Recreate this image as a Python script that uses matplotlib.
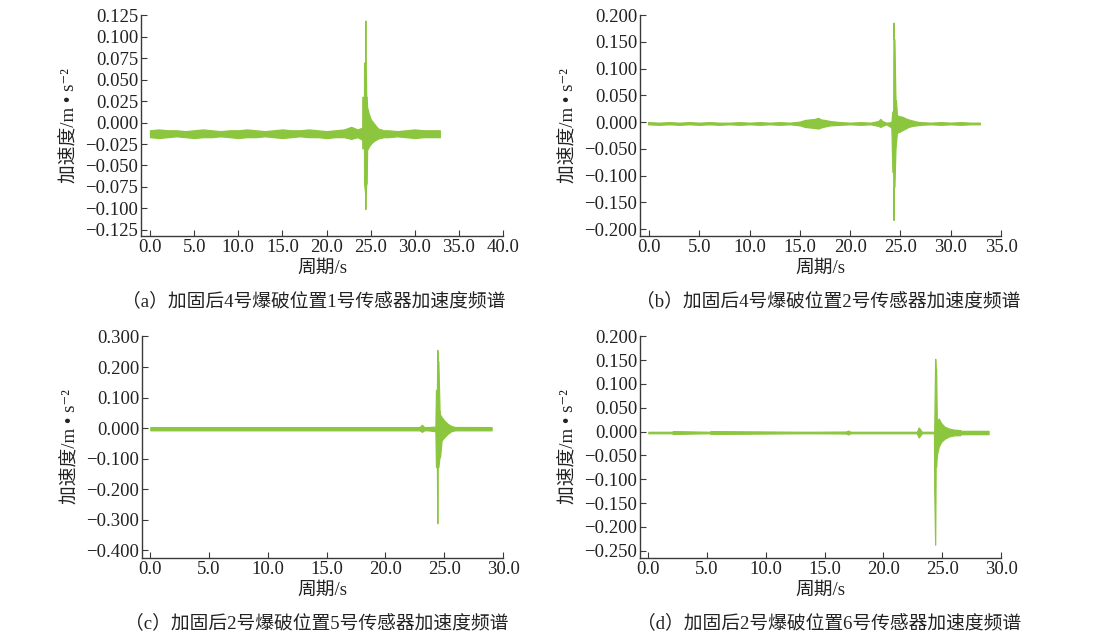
import matplotlib as mpl
mpl.use("Agg")
import matplotlib.pyplot as plt
from matplotlib.ticker import FuncFormatter

plt.rcParams['font.family'] = ['Liberation Serif', 'Noto Sans CJK SC', 'DejaVu Serif']

GREEN = '#8cc63f'
AXCOL = '#3a3a3a'
TXT = '#222222'

# ---- panel (a): envelope of the record, time [s], upper / lower [m/s^2]
t_a = [0.0, 1.0, 2.0, 3.0, 4.0, 5.0, 6.0, 7.0, 8.0, 9.0, 10.0, 11.0,
       12.0, 13.0, 14.0, 15.0, 16.0, 17.0, 18.0, 19.0, 20.0, 21.0, 22.0,
       22.8, 23.5,
       24.05, 24.06, 24.25, 24.26, 24.38, 24.40, 24.42, 24.44, 24.50, 24.55, 24.60,
       24.8, 25.0, 25.3, 25.6, 25.85,
       26.5, 27.0, 28.0, 29.0, 30.0, 31.0, 32.0, 32.84]
hi_a = [-0.009, -0.008, -0.009, -0.009, -0.010, -0.009, -0.008, -0.009, -0.010, -0.009, -0.009, -0.008,
        -0.009, -0.010, -0.009, -0.008, -0.009, -0.009, -0.008, -0.009, -0.010, -0.009, -0.008,
        -0.005, -0.008,
        -0.006, 0.030, 0.030, 0.070, 0.070, 0.119, 0.070, 0.070, 0.030, 0.030, 0.018,
        0.010, 0.004, 0.000, -0.004, -0.007,
        -0.009, -0.009, -0.010, -0.009, -0.008, -0.009, -0.009, -0.009]
lo_a = [-0.017, -0.018, -0.017, -0.016, -0.017, -0.018, -0.017, -0.017, -0.016, -0.017, -0.018, -0.017,
        -0.017, -0.016, -0.017, -0.018, -0.017, -0.016, -0.017, -0.017, -0.018, -0.017, -0.017,
        -0.019, -0.017,
        -0.020, -0.030, -0.030, -0.071, -0.0825, -0.1008, -0.0825, -0.0825, -0.071, -0.071, -0.032,
        -0.028, -0.025, -0.022, -0.020, -0.0185,
        -0.017, -0.017, -0.016, -0.017, -0.018, -0.017, -0.017, -0.017]

# ---- panel (b)
t_b = [-0.1, 1.0, 2.0, 3.0, 4.0, 5.0, 6.0, 7.0, 8.0, 9.0, 10.0, 11.0, 12.0, 13.0, 14.0,
       15.0, 15.5, 16.0, 16.5, 16.8, 17.1, 17.5, 18.0,
       19.0, 20.0, 21.0, 22.0,
       22.8, 23.0, 23.2, 23.6,
       24.1, 24.2, 24.28, 24.31, 24.34, 24.40, 24.50, 24.55, 24.65,
       24.9, 25.2, 25.5, 25.8, 26.2, 26.6, 27.0,
       28.0, 29.0, 30.0, 31.0, 32.0, 32.9]
hi_b = [0.000, -0.001, 0.000, -0.001, 0.000, -0.001, 0.000, -0.001, -0.001, 0.000, -0.001, 0.000, -0.001, 0.000, -0.001,
        0.001, 0.004, 0.005, 0.006, 0.008, 0.005, 0.004, 0.002,
        0.000, -0.001, 0.000, -0.001,
        0.002, 0.006, 0.002, -0.001,
        0.000, 0.020, 0.020, 0.186, 0.155, 0.155, 0.041, 0.041, 0.013,
        0.011, 0.010, 0.007, 0.005, 0.003, 0.001, 0.000,
        -0.001, 0.000, -0.001, 0.000, -0.001, -0.001]
lo_b = [-0.004, -0.005, -0.004, -0.005, -0.004, -0.005, -0.004, -0.005, -0.004, -0.005, -0.004, -0.005, -0.004, -0.005, -0.004,
        -0.006, -0.009, -0.010, -0.011, -0.012, -0.010, -0.008, -0.006,
        -0.005, -0.004, -0.005, -0.004,
        -0.007, -0.009, -0.007, -0.004,
        -0.010, -0.093, -0.093, -0.183, -0.121, -0.121, -0.052, -0.039, -0.020,
        -0.018, -0.015, -0.012, -0.009, -0.007, -0.006, -0.005,
        -0.004, -0.005, -0.004, -0.005, -0.004, -0.004]

# ---- panel (c)
t_c = [0.0, 22.9, 23.1, 23.3, 23.6,
       24.25, 24.30, 24.38, 24.41, 24.44, 24.50, 24.60, 24.64, 24.78,
       25.0, 25.3, 25.6, 25.91, 29.03]
hi_c = [0.0035, 0.0035, 0.011, 0.0035, 0.0035,
        0.005, 0.125, 0.125, 0.256, 0.219, 0.219, 0.060, 0.045, 0.036,
        0.025, 0.014, 0.007, 0.0037, 0.0035]
lo_c = [-0.007, -0.007, -0.012, -0.007, -0.007,
        -0.010, -0.127, -0.127, -0.311, -0.127, -0.127, -0.094, -0.094, -0.040,
        -0.030, -0.018, -0.010, -0.007, -0.007]

# ---- panel (d)
t_d = [0.0, 2.0, 2.1, 5.2, 5.3, 13.5, 16.8, 17.0, 17.2, 22.84, 23.0, 23.27,
       24.30, 24.32, 24.40, 24.44, 24.48, 24.54, 24.70, 24.9, 25.2, 25.6, 26.0,
       26.53, 26.6, 28.94]
hi_d = [-0.0005, -0.0005, 0.001, -0.0005, 0.001, -0.0005, 0.000, 0.002, -0.0005, -0.0005, 0.0085, -0.0005,
        -0.0005, 0.000, 0.1527, 0.132, 0.132, 0.020, 0.0274, 0.018, 0.010, 0.006, 0.004,
        0.003, 0.0015, 0.0015]
lo_d = [-0.0035, -0.0035, -0.005, -0.0035, -0.005, -0.0035, -0.004, -0.006, -0.0035, -0.0035, -0.0124, -0.0035,
        -0.0035, -0.119, -0.2374, -0.074, -0.074, -0.050, -0.032, -0.022, -0.015, -0.010, -0.008,
        -0.0075, -0.0055, -0.0055]

x_ticks_a = [0, 5, 10, 15, 20, 25, 30, 35, 40]
x_ticks_b = [0, 5, 10, 15, 20, 25, 30, 35]
x_ticks_cd = [0, 5, 10, 15, 20, 25, 30]
y_ticks_a = [-0.125, -0.1, -0.075, -0.05, -0.025, 0, 0.025, 0.05, 0.075, 0.1, 0.125]
y_ticks_b = [-0.2, -0.15, -0.1, -0.05, 0, 0.05, 0.1, 0.15, 0.2]
y_ticks_c = [-0.4, -0.3, -0.2, -0.1, 0, 0.1, 0.2, 0.3]
y_ticks_d = [-0.25, -0.2, -0.15, -0.1, -0.05, 0, 0.05, 0.1, 0.15, 0.2]

captions = ['（a）加固后4号爆破位置1号传感器加速度频谱',
            '（b）加固后4号爆破位置2号传感器加速度频谱',
            '（c）加固后2号爆破位置5号传感器加速度频谱',
            '（d）加固后2号爆破位置6号传感器加速度频谱']

W, H = 1105, 642
fig = plt.figure(figsize=(W / 100, H / 100), dpi=100)
fig.patch.set_facecolor('white')


def px_axes(left, top, right, bottom):
    return fig.add_axes([left / W, 1 - bottom / H, (right - left) / W, (bottom - top) / H])


def fmt(decimals):
    # real minus sign, like the print figure
    return FuncFormatter(lambda v, pos: f'{v:.{decimals}f}'.replace('-', '\u2212'))


panels = [
    # (box px, t, hi, lo, xlim, ylim, xticks, yticks, caption pos)
    ((141, 15, 503, 236), t_a, hi_a, lo_a, (-1.02, 40.0), (-0.1323, 0.1255), x_ticks_a, y_ticks_a, (314, 301)),
    ((640, 15, 1001, 236), t_b, hi_b, lo_b, (-0.9, 35.0), (-0.2131, 0.2005), x_ticks_b, y_ticks_b, (828, 301)),
    ((142, 336, 503, 558), t_c, hi_c, lo_c, (-0.71, 30.0), (-0.4247, 0.3015), x_ticks_cd, y_ticks_c, (317, 623)),
    ((640, 336, 1001, 558), t_d, hi_d, lo_d, (-0.71, 30.0), (-0.2653, 0.2005), x_ticks_cd, y_ticks_d, (829, 623)),
]

for (box, t, hi, lo, xl, yl, xt, yt, cap), caption in zip(panels, captions):
    ax = px_axes(*box)
    ax.fill_between(t, lo, hi, color=GREEN, edgecolor=GREEN, linewidth=0.9)
    ax.set_xlim(*xl)
    ax.set_ylim(*yl)
    ax.set_xticks(xt)
    ax.set_yticks(yt)
    ax.xaxis.set_major_formatter(fmt(1))
    ax.yaxis.set_major_formatter(fmt(3))
    for side in ['top', 'right']:
        ax.spines[side].set_visible(False)
    for side in ['left', 'bottom']:
        ax.spines[side].set_color(AXCOL)
        ax.spines[side].set_linewidth(1.0)
    ax.tick_params(direction='in', length=4, width=0.8, color=AXCOL,
                   labelsize=13.5, labelcolor=TXT, pad=2)
    ax.set_xlabel('周期/s', fontsize=13.5, color=TXT, labelpad=3)
    ax.set_ylabel('加速度/m • s\u207b\u00b2', fontsize=13.5, color=TXT, labelpad=5)
    fig.text(cap[0] / W, 1 - cap[1] / H, caption, fontsize=13.5, color=TXT,
             ha='center', va='center')

fig.savefig('out.png', dpi=100, facecolor='white')
